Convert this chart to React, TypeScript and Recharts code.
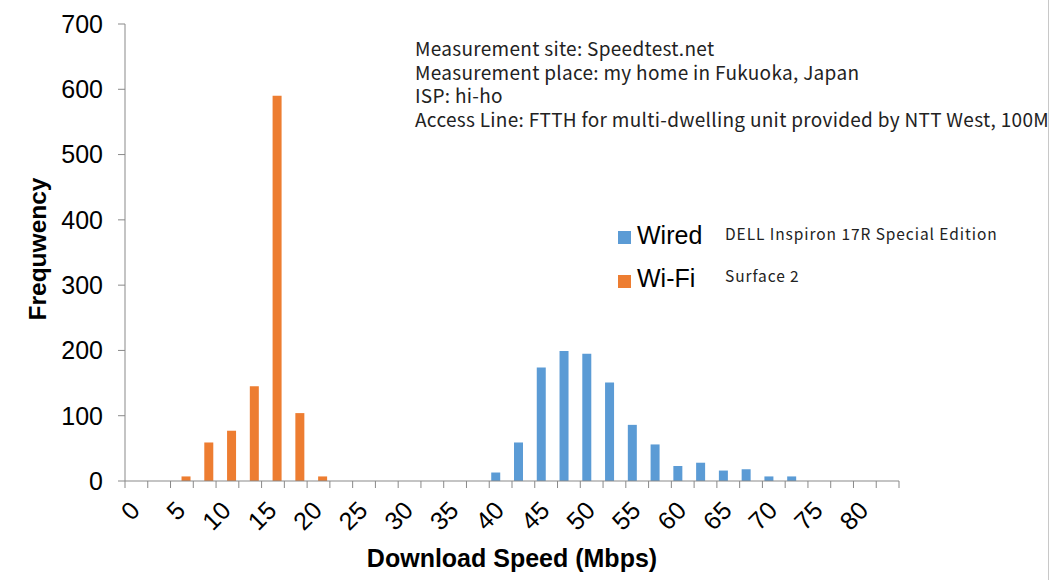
import React from 'react';
import { BarChart, Bar, XAxis, YAxis, Legend } from 'recharts';

const categories = [
  '0', '2.5', '5', '7.5', '10', '12.5', '15', '17.5', '20', '22.5',
  '25', '27.5', '30', '32.5', '35', '37.5', '40', '42.5', '45', '47.5',
  '50', '52.5', '55', '57.5', '60', '62.5', '65', '67.5', '70', '72.5',
  '75', '77.5', '80', '82.5',
];
const wiredCounts = [
  0, 0, 0, 0, 0, 0, 0, 0, 0, 0,
  0, 0, 0, 0, 0, 0, 13, 59, 174, 199,
  195, 151, 86, 56, 23, 28, 16, 18, 7, 7,
  0, 0, 0, 0,
];
const wifiCounts = [
  0, 0, 7, 59, 77, 145, 590, 104, 7, 0,
  0, 0, 0, 0, 0, 0, 0, 0, 0, 0,
  0, 0, 0, 0, 0, 0, 0, 0, 0, 0,
  0, 0, 0, 0,
];
const yTicks = [0, 100, 200, 300, 400, 500, 600, 700];
const seriesNames = ['Wired', 'Wi-Fi'];
const deviceNames = ['DELL Inspiron 17R Special Edition', 'Surface 2'];
const noteLines = [
  'Measurement site: Speedtest.net',
  'Measurement place: my home in Fukuoka, Japan',
  'ISP: hi-ho',
  'Access Line: FTTH for multi-dwelling unit provided by NTT West, 100Mbps',
];
const xTitle = 'Download Speed (Mbps)';
const yTitle = 'Frequwency';

const data = categories.map((c, i) => ({ speed: c, wired: wiredCounts[i], wifi: wifiCounts[i] }));

const W = 1051;
const H = 580;
const AXIS = '#898989';
const BLUE = '#5B9BD5';
const ORANGE = '#ED7D31';
const ARIAL = '"Liberation Sans", Arial, sans-serif';
const JP = '"Noto Sans CJK JP", "Noto Sans", sans-serif';

function XTick(props: any) {
  const { x, y, payload, index } = props;
  const half = payload && typeof payload.offset === 'number' ? payload.offset : 0;
  const isLast = index === categories.length - 1;
  const ax = x + 5;
  const ay = y + 31;
  return (
    <g>
      <line x1={x - half} x2={x - half} y1={y} y2={y + 7} stroke={AXIS} strokeWidth={1} />
      {isLast && <line x1={x + half} x2={x + half} y1={y} y2={y + 7} stroke={AXIS} strokeWidth={1} />}
      {index % 2 === 0 && (
        <text
          x={ax}
          y={ay}
          transform={`rotate(-45 ${ax} ${ay})`}
          textAnchor="end"
          fontSize={25}
          fontFamily={ARIAL}
          fill="#000"
        >
          {payload.value}
        </text>
      )}
    </g>
  );
}

function LegendContent(props: any) {
  const raw = props.payload || [];
  const items = [...raw].sort(
    (a: any, b: any) => seriesNames.indexOf(a.value) - seriesNames.indexOf(b.value)
  );
  return (
    <svg width={430} height={85} style={{ display: 'block' }}>
      {items.map((item: any, i: number) => (
        <g key={i}>
          <rect x={8} y={16 + i * 44} width={13} height={13} fill={item.color} />
          <text x={27} y={29 + i * 43} fontSize={25} fontFamily={ARIAL} fill="#000">
            {item.value}
          </text>
          <text x={115} y={25 + i * 42} fontSize={15.5} fontFamily={JP} fill="#222" letterSpacing={0.93}>
            {deviceNames[seriesNames.indexOf(item.value)]}
          </text>
        </g>
      ))}
    </svg>
  );
}

export default function App() {
  return (
    <div style={{ position: 'absolute', left: 0, top: 0, width: W, height: H, background: '#fff', overflow: 'hidden' }}>
      <BarChart
        width={W}
        height={H}
        data={data}
        margin={{ top: 24, right: 152, left: 25, bottom: 39 }}
        barGap={0}
      >
        <XAxis
          dataKey="speed"
          type="category"
          height={60}
          interval={0}
          tickSize={0}
          tickMargin={0}
          tickLine={false}
          axisLine={{ stroke: AXIS, strokeWidth: 1 }}
          tick={<XTick />}
        />
        <YAxis
          width={100}
          domain={[0, 700]}
          ticks={yTicks}
          interval={0}
          tickSize={7}
          tickMargin={15}
          tickLine={{ stroke: AXIS, strokeWidth: 1 }}
          axisLine={{ stroke: AXIS, strokeWidth: 1 }}
          tick={{ fill: '#000', fontSize: 25, fontFamily: ARIAL }}
        />
        <Legend
          layout="vertical"
          align="center"
          verticalAlign="middle"
          content={<LegendContent />}
          wrapperStyle={{ position: 'absolute', left: 610, top: 215, width: 430, height: 85 }}
        />
        <Bar dataKey="wired" name={seriesNames[0]} fill={BLUE} barSize={9} isAnimationActive={false} />
        <Bar dataKey="wifi" name={seriesNames[1]} fill={ORANGE} barSize={9} isAnimationActive={false} />
      </BarChart>
      <svg
        width={W}
        height={H}
        style={{ position: 'absolute', left: 0, top: 0, pointerEvents: 'none' }}
      >
        <defs>
          <clipPath id="noteClip">
            <rect x={0} y={0} width={1048} height={H} />
          </clipPath>
        </defs>
        <g clipPath="url(#noteClip)">
          {noteLines.map((line, i) => (
            <text key={i} x={415} y={56 + i * 23.5} fontSize={19} fontFamily={JP} fill="#222" letterSpacing={0.3}>
              {line}
            </text>
          ))}
        </g>
        <line x1={1048.5} x2={1048.5} y1={0} y2={H} stroke="#c8c8c8" strokeWidth={1} />
        <text x={512} y={567} textAnchor="middle" fontSize={25} fontWeight="bold" fontFamily={ARIAL} fill="#000">
          {xTitle}
        </text>
        <text
          x={46}
          y={249}
          transform="rotate(-90 46 249)"
          textAnchor="middle"
          fontSize={24.5}
          fontWeight="bold"
          fontFamily={ARIAL}
          fill="#000"
        >
          {yTitle}
        </text>
      </svg>
    </div>
  );
}
